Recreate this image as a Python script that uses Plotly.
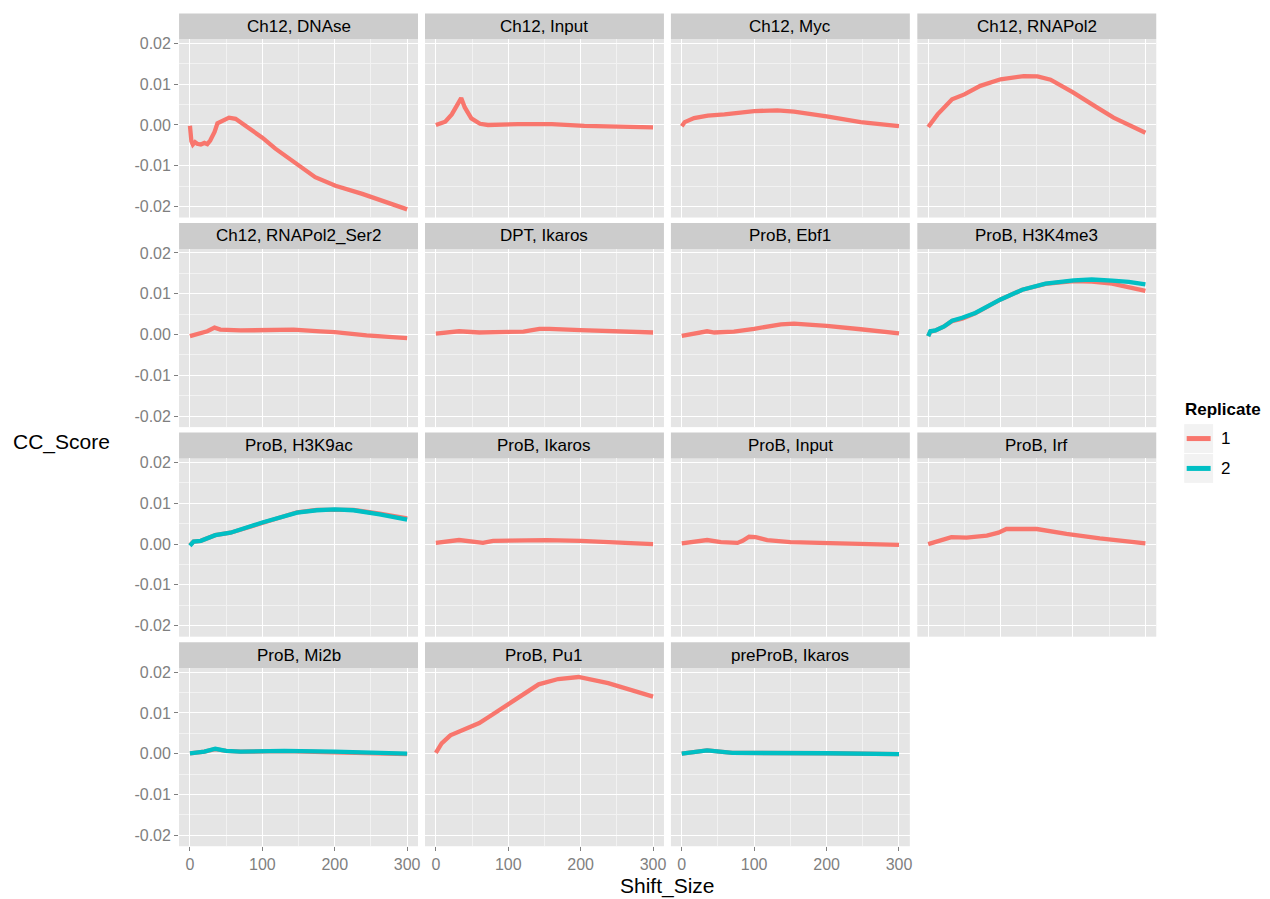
import plotly.graph_objects as go

# ---------------- data ----------------
panel_names = ["Ch12, DNAse", "Ch12, Input", "Ch12, Myc", "Ch12, RNAPol2",
               "Ch12, RNAPol2_Ser2", "DPT, Ikaros", "ProB, Ebf1", "ProB, H3K4me3",
               "ProB, H3K9ac", "ProB, Ikaros", "ProB, Input", "ProB, Irf",
               "ProB, Mi2b", "ProB, Pu1", "preProB, Ikaros"]

x_ch12_dnase = [0, 2, 4, 7, 10, 15, 20, 24, 28, 34, 38, 47, 54, 63, 72, 86, 100, 118, 146, 173, 201, 238, 300]
y_ch12_dnase = [-0.0002, -0.0040, -0.0048, -0.0042, -0.0046, -0.0048, -0.0044, -0.0047, -0.0038, -0.0017, 0.0004, 0.0012,
                0.0018, 0.0015, 0.0004, -0.0012, -0.0031, -0.0058, -0.0095, -0.0128, -0.0149, -0.0169, -0.0207]

x_ch12_input = [0, 13, 22, 29, 35, 40, 49, 61, 72, 114, 160, 205, 252, 300]
y_ch12_input = [0.0, 0.0008, 0.0026, 0.0047, 0.0066, 0.0043, 0.0016, 0.0003, 0.0, 0.0002, 0.0002, -0.0002, -0.0005, -0.0006]

x_ch12_myc = [0, 4, 17, 36, 59, 100, 132, 155, 200, 247, 300]
y_ch12_myc = [-0.0003, 0.0007, 0.0017, 0.0023, 0.0026, 0.0034, 0.0036, 0.0033, 0.0021, 0.0007, -0.0003]

x_ch12_pol2 = [0, 13, 33, 50, 72, 100, 132, 151, 169, 200, 233, 256, 300]
y_ch12_pol2 = [-0.0005, 0.0026, 0.0063, 0.0075, 0.0096, 0.0112, 0.0120, 0.0119, 0.0111, 0.0080, 0.0043, 0.0018, -0.0019]

x_ch12_ser2 = [0, 15, 24, 34, 42, 70, 102, 143, 180, 200, 244, 300]
y_ch12_ser2 = [-0.0004, 0.0002, 0.0008, 0.0017, 0.0012, 0.0010, 0.0012, 0.0012, 0.0008, 0.0006, -0.0002, -0.0009]

x_dpt_ikaros = [0, 32, 60, 121, 143, 157, 200, 254, 300]
y_dpt_ikaros = [0.0002, 0.0008, 0.0005, 0.0007, 0.0014, 0.0014, 0.0011, 0.0008, 0.0005]

x_prob_ebf1 = [0, 35, 45, 72, 100, 114, 137, 155, 183, 200, 247, 300]
y_prob_ebf1 = [-0.0003, 0.0008, 0.0005, 0.0007, 0.0014, 0.0018, 0.0025, 0.0027, 0.0024, 0.0021, 0.0013, 0.0003]

x_prob_h3k4 = [0, 3, 10, 22, 33, 47, 65, 100, 130, 162, 201, 226, 254, 277, 300]
y_prob_h3k4_rep1 = [-0.0004, 0.0007, 0.0010, 0.0020, 0.0033, 0.0039, 0.0052, 0.0086, 0.0110, 0.0124, 0.0131, 0.0130, 0.0125, 0.0117, 0.0107]
y_prob_h3k4_rep2 = [-0.0004, 0.0008, 0.0010, 0.0020, 0.0034, 0.0041, 0.0053, 0.0086, 0.0110, 0.0125, 0.0133, 0.0135, 0.0132, 0.0129, 0.0123]

x_prob_h3k9 = [0, 5, 15, 35, 56, 100, 148, 175, 200, 226, 262, 300]
y_prob_h3k9_rep1 = [-0.0003, 0.0006, 0.0008, 0.0022, 0.0028, 0.0053, 0.0078, 0.0084, 0.0085, 0.0084, 0.0075, 0.0063]
y_prob_h3k9_rep2 = [-0.0004, 0.0006, 0.0008, 0.0022, 0.0028, 0.0053, 0.0077, 0.0083, 0.0085, 0.0083, 0.0073, 0.0060]

x_prob_ikaros = [0, 32, 65, 79, 153, 200, 300]
y_prob_ikaros = [0.0003, 0.0010, 0.0003, 0.0008, 0.0010, 0.0008, 0.0000]

x_prob_input = [0, 35, 54, 77, 84, 93, 102, 118, 150, 200, 247, 300]
y_prob_input = [0.0002, 0.0010, 0.0005, 0.0003, 0.0008, 0.0018, 0.0017, 0.0010, 0.0005, 0.0002, -0.0001, -0.0002]

x_prob_irf = [0, 32, 53, 81, 97, 108, 122, 150, 191, 237, 300]
y_prob_irf = [0.0000, 0.0017, 0.0016, 0.0021, 0.0028, 0.0037, 0.0037, 0.0037, 0.0025, 0.0014, 0.0002]

x_prob_mi2b = [0, 20, 35, 50, 70, 130, 200, 250, 300]
y_prob_mi2b_rep1 = [0.0001, 0.0005, 0.0011, 0.0007, 0.0005, 0.0006, 0.0003, 0.0000, -0.0001]
y_prob_mi2b_rep2 = [0.0001, 0.0005, 0.0012, 0.0007, 0.0005, 0.0007, 0.0005, 0.0002, 0.0000]

x_prob_pu1 = [0, 8, 20, 31, 60, 73, 107, 142, 169, 197, 238, 300]
y_prob_pu1 = [0.0002, 0.0025, 0.0045, 0.0054, 0.0075, 0.0090, 0.0130, 0.0170, 0.0183, 0.0188, 0.0173, 0.0140]

x_preprob_ikaros = [0, 35, 70, 150, 200, 300]
y_preprob_ikaros_rep1 = [0.0000, 0.0008, 0.0002, 0.0002, 0.0001, -0.0001]
y_preprob_ikaros_rep2 = [0.0000, 0.0008, 0.0002, 0.0002, 0.0001, -0.0001]

# series per panel: list of (replicate, x, y)
panel_series = [
    [("1", x_ch12_dnase, y_ch12_dnase)],
    [("1", x_ch12_input, y_ch12_input)],
    [("1", x_ch12_myc, y_ch12_myc)],
    [("1", x_ch12_pol2, y_ch12_pol2)],
    [("1", x_ch12_ser2, y_ch12_ser2)],
    [("1", x_dpt_ikaros, y_dpt_ikaros)],
    [("1", x_prob_ebf1, y_prob_ebf1)],
    [("1", x_prob_h3k4, y_prob_h3k4_rep1), ("2", x_prob_h3k4, y_prob_h3k4_rep2)],
    [("1", x_prob_h3k9, y_prob_h3k9_rep1), ("2", x_prob_h3k9, y_prob_h3k9_rep2)],
    [("1", x_prob_ikaros, y_prob_ikaros)],
    [("1", x_prob_input, y_prob_input)],
    [("1", x_prob_irf, y_prob_irf)],
    [("1", x_prob_mi2b, y_prob_mi2b_rep1), ("2", x_prob_mi2b, y_prob_mi2b_rep2)],
    [("1", x_prob_pu1, y_prob_pu1)],
    [("1", x_preprob_ikaros, y_preprob_ikaros_rep1), ("2", x_preprob_ikaros, y_preprob_ikaros_rep2)],
]

replicates = ["1", "2"]
rep_colors = {"1": "#F8766D", "2": "#00BFC4"}

x_ticks = [0, 100, 200, 300]
x_ticktext = ["0", "100", "200", "300"]
y_ticks = [-0.02, -0.01, 0.0, 0.01, 0.02]
y_ticktext = ["-0.02", "-0.01", "0.00", "0.01", "0.02"]

# ---------------- layout geometry ----------------
W, H = 1270, 899
FONT = "Liberation Sans, Arial, Helvetica, sans-serif"


def px(x):
    return x / W


def py(y):
    return 1 - y / H


col_left = [179.5, 426.0, 672.5, 919.5]
panel_w = 239.5
row_pitch = 210.5
strip_top0, strip_bot0, panel_bot0 = 9.5, 35.5, 214.5
ncol = 4
n_panels = len(panel_names)
n_rows = (n_panels + ncol - 1) // ncol

fig = go.Figure()
layout = dict(
    width=W, height=H, autosize=False,
    margin=dict(l=0, r=0, t=0, b=0),
    paper_bgcolor="white",
    plot_bgcolor="#E5E5E5",
    showlegend=False,
    font=dict(family=FONT, color="black"),
)
shapes = []
annotations = []

for i, name in enumerate(panel_names):
    r, c = divmod(i, ncol)
    k = i + 1
    xs = "" if k == 1 else str(k)
    left = col_left[c]
    s_top = strip_top0 + r * row_pitch
    s_bot = strip_bot0 + r * row_pitch
    p_bot = panel_bot0 + r * row_pitch
    bottom = (r == n_rows - 1)

    for rep, xv, yv in panel_series[i]:
        fig.add_trace(go.Scatter(
            x=xv, y=yv, mode="lines",
            line=dict(color=rep_colors[rep], width=4.3),
            xaxis="x" + xs, yaxis="y" + xs,
            name=rep, hoverinfo="skip",
        ))

    layout["xaxis" + xs] = dict(
        domain=[px(left), px(left + panel_w)],
        range=[-15, 315], anchor="y" + xs,
        tickmode="array", tickvals=x_ticks, ticktext=x_ticktext,
        showticklabels=bottom, ticks="outside" if bottom else "",
        ticklen=4, tickwidth=1, tickcolor="#7F7F7F",
        tickfont=dict(size=16, color="#7F7F7F", family=FONT),
        showgrid=True, gridcolor="white", gridwidth=1.3,
        minor=dict(tickvals=[50, 150, 250], showgrid=True,
                   gridcolor="#F2F2F2", gridwidth=0.7),
        zeroline=False, showline=False, fixedrange=True,
    )
    layout["yaxis" + xs] = dict(
        domain=[py(p_bot), py(s_bot)],
        range=[-0.0227, 0.0210], anchor="x" + xs,
        tickmode="array", tickvals=y_ticks, ticktext=y_ticktext,
        showticklabels=(c == 0), ticks="outside" if c == 0 else "",
        ticklen=4, tickwidth=1, tickcolor="#7F7F7F",
        tickfont=dict(size=16, color="#7F7F7F", family=FONT),
        showgrid=True, gridcolor="white", gridwidth=1.3,
        minor=dict(tickvals=[-0.015, -0.005, 0.005, 0.015], showgrid=True,
                   gridcolor="#F2F2F2", gridwidth=0.7),
        zeroline=False, showline=False, fixedrange=True,
    )

    shapes.append(dict(type="rect", xref="paper", yref="paper",
                       x0=px(left), x1=px(left + panel_w), y0=py(s_bot), y1=py(s_top),
                       fillcolor="#CCCCCC", line=dict(width=0), layer="below"))
    annotations.append(dict(text=name, xref="paper", yref="paper",
                            x=px(left + panel_w / 2), y=py((s_top + s_bot) / 2),
                            xanchor="center", yanchor="middle", showarrow=False,
                            font=dict(size=17, color="black", family=FONT)))

annotations.append(dict(text="Shift_Size", xref="paper", yref="paper",
                        x=px((col_left[0] + col_left[3] + panel_w) / 2), y=py(886),
                        xanchor="center", yanchor="middle", showarrow=False,
                        font=dict(size=21, color="black", family=FONT)))
annotations.append(dict(text="CC_Score", xref="paper", yref="paper",
                        x=px(62), y=py(440),
                        xanchor="center", yanchor="middle", showarrow=False,
                        font=dict(size=21, color="black", family=FONT)))

annotations.append(dict(text="<b>Replicate</b>", xref="paper", yref="paper",
                        x=px(1186), y=py(407), xanchor="left", yanchor="middle",
                        showarrow=False, font=dict(size=17, color="black", family=FONT)))
key_top = 422.0
key_h = 29.0
for j, rep in enumerate(replicates):
    t = key_top + j * (key_h + 1)
    shapes.append(dict(type="rect", xref="paper", yref="paper",
                       x0=px(1187), x1=px(1216), y0=py(t + key_h), y1=py(t),
                       fillcolor="#F2F2F2", line=dict(width=0)))
    shapes.append(dict(type="line", xref="paper", yref="paper",
                       x0=px(1189.5), x1=px(1213.5), y0=py(t + key_h / 2), y1=py(t + key_h / 2),
                       line=dict(color=rep_colors[rep], width=5)))
    annotations.append(dict(text=rep, xref="paper", yref="paper",
                            x=px(1222), y=py(t + key_h / 2), xanchor="left", yanchor="middle",
                            showarrow=False, font=dict(size=17, color="black", family=FONT)))

layout["shapes"] = shapes
layout["annotations"] = annotations
fig.update_layout(**layout)
fig.write_html(
    "out.html",
    config={"displayModeBar": False},
    post_script="document.body.style.margin='0px';document.body.style.overflow='hidden';",
)
